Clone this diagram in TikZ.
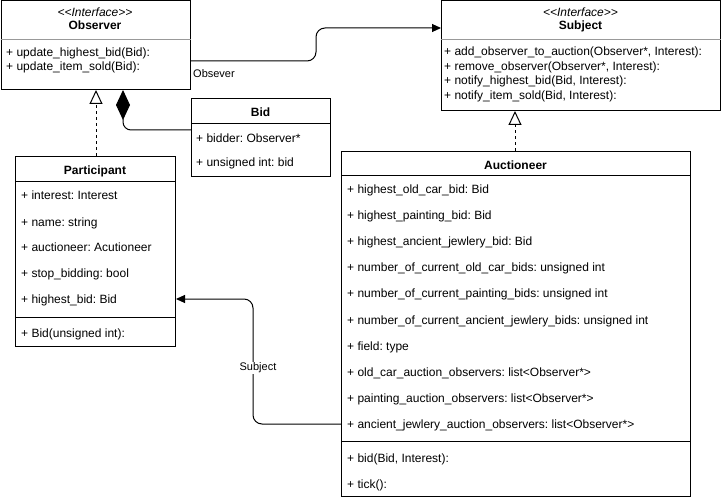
\documentclass[tikz,border=0pt]{standalone}
\usepackage{fontspec}
\setmainfont{Liberation Sans}
\usetikzlibrary{arrows.meta}
\frenchspacing
\begin{document}
\begin{tikzpicture}[x=1pt,y=-1pt,
  classbox/.style={draw=black, line width=1pt, fill=white, rectangle, inner sep=0pt, anchor=north west},
  member/.style={anchor=base west, inner sep=0pt, font=\fontsize{12}{14}\selectfont},
  classname/.style={anchor=base, inner sep=0pt, font=\bfseries\fontsize{12}{14}\selectfont},
  stereo/.style={anchor=base, inner sep=0pt, font=\itshape\fontsize{12}{14}\selectfont},
  divider/.style={line width=1pt},
  softdivider/.style={line width=0.8pt, draw=black!40},
  assoc/.style={line width=1pt, rounded corners=9pt, -{Triangle[length=9pt,width=8pt]}},
  realize/.style={line width=1pt, dash pattern=on 3pt off 3pt, -{Triangle[fill=white,length=14pt,width=13pt]}},
  compose/.style={line width=1pt, rounded corners=8pt, {Diamond[length=30pt,width=14pt]}-},
  edgelabel/.style={inner sep=1pt, font=\fontsize{11}{13}\selectfont}
]
\useasboundingbox (0,0) rectangle (721,500);

% ---- Observer interface ----
\node[classbox, minimum width=189.5pt, minimum height=88.5pt] (observer) at (0.5,0.5) {};
\draw[softdivider] (observer.west |- 0,39.5) -- (observer.east |- 0,39.5);
\node[stereo] (obsster) at (95,17) {<{}<Interface>{}>};
\node[classname] (obsname) at (95,30) {Observer};
\node[member] (obs1) at (6,57) {+ update\_highest\_bid(Bid):};
\node[member] (obs2) at (6,71) {+ update\_item\_sold(Bid):};

% ---- Subject interface ----
\node[classbox, minimum width=279pt, minimum height=109.5pt] (subject) at (441,0.5) {};
\draw[softdivider] (subject.west |- 0,39.5) -- (subject.east |- 0,39.5);
\node[stereo] (subster) at (580.5,17) {<{}<Interface>{}>};
\node[classname] (subname) at (580.5,30) {Subject};
\node[member] (sub1) at (444,56) {+ add\_observer\_to\_auction(Observer*, Interest):};
\node[member] (sub2) at (444,70.5) {+ remove\_observer(Observer*, Interest):};
\node[member] (sub3) at (444,85) {+ notify\_highest\_bid(Bid, Interest):};
\node[member] (sub4) at (444,99.5) {+ notify\_item\_sold(Bid, Interest):};

% ---- Bid ----
\node[classbox, minimum width=139pt, minimum height=78pt] (bid) at (191,98) {};
\draw[divider] (bid.west |- 0,124) -- (bid.east |- 0,124);
\node[classname] (bidname) at (260.5,117) {Bid};
\node[member] (bid1) at (196,143) {+ bidder: Observer*};
\node[member] (bid2) at (196,167) {+ unsigned int: bid};

% ---- Participant ----
\node[classbox, minimum width=160pt, minimum height=190pt] (participant) at (15,156) {};
\draw[divider] (participant.west |- 0,182) -- (participant.east |- 0,182);
\draw[divider] (participant.west |- 0,317) -- (participant.east |- 0,317);
\node[classname] (partname) at (95,175) {Participant};
\node[member] (p1) at (21,200) {+ interest: Interest};
\node[member] (p2) at (21,226) {+ name: string};
\node[member] (p3) at (21,251.5) {+ auctioneer: Acutioneer};
\node[member] (p4) at (21,277) {+ stop\_bidding: bool};
\node[member] (p5) at (21,303) {+ highest\_bid: Bid};
\node[member] (p6) at (21,337) {+ Bid(unsigned int):};

% ---- Auctioneer ----
\node[classbox, minimum width=349pt, minimum height=345pt] (auctioneer) at (341,151) {};
\draw[divider] (auctioneer.west |- 0,176) -- (auctioneer.east |- 0,176);
\draw[divider] (auctioneer.west |- 0,441) -- (auctioneer.east |- 0,441);
\node[classname] (auctname) at (515.5,169.5) {Auctioneer};
\node[member] (a1) at (347,194) {+ highest\_old\_car\_bid: Bid};
\node[member] (a2) at (347,220) {+ highest\_painting\_bid: Bid};
\node[member] (a3) at (347,246) {+ highest\_ancient\_jewlery\_bid: Bid};
\node[member] (a4) at (347,272) {+ number\_of\_current\_old\_car\_bids: unsigned int};
\node[member] (a5) at (347,298) {+ number\_of\_current\_painting\_bids: unsigned int};
\node[member] (a6) at (347,324) {+ number\_of\_current\_ancient\_jewlery\_bids: unsigned int};
\node[member] (a7) at (347,350) {+ field: type};
\node[member] (a8) at (347,376) {+ old\_car\_auction\_observers: list<Observer*>};
\node[member] (a9) at (347,402) {+ painting\_auction\_observers: list<Observer*>};
\node[member] (a10) at (347,428) {+ ancient\_jewlery\_auction\_observers: list<Observer*>};
\node[member] (a11) at (347,462) {+ bid(Bid, Interest):};
\node[member] (a12) at (347,488) {+ tick():};

% ---- Connectors ----
% Observer -> Subject association
\draw[assoc] (observer.east |- 0,61) -- (316,61) -- (316,28) -- (subject.west |- 0,28);
\node[edgelabel, anchor=base west] (lblobs) at (192,78) {Obsever};

% Bid composed into Observer
\draw[compose] (observer.south -| 123,0) -- (123,130) -- (bid.west |- 0,130);

% Participant realizes Observer
\draw[realize] (participant.north -| 96,0) -- (observer.south -| 96,0);

% Auctioneer realizes Subject
\draw[realize] (auctioneer.north -| 515,0) -- (subject.south -| 515,0);

% Auctioneer -> Participant association
\draw[assoc] (auctioneer.west |- 0,424) -- (253,424) -- (253,299) -- (participant.east |- 0,299);
\node[edgelabel, fill=white] (lblsub) at (258,368) {Subject};
\end{tikzpicture}
\end{document}
